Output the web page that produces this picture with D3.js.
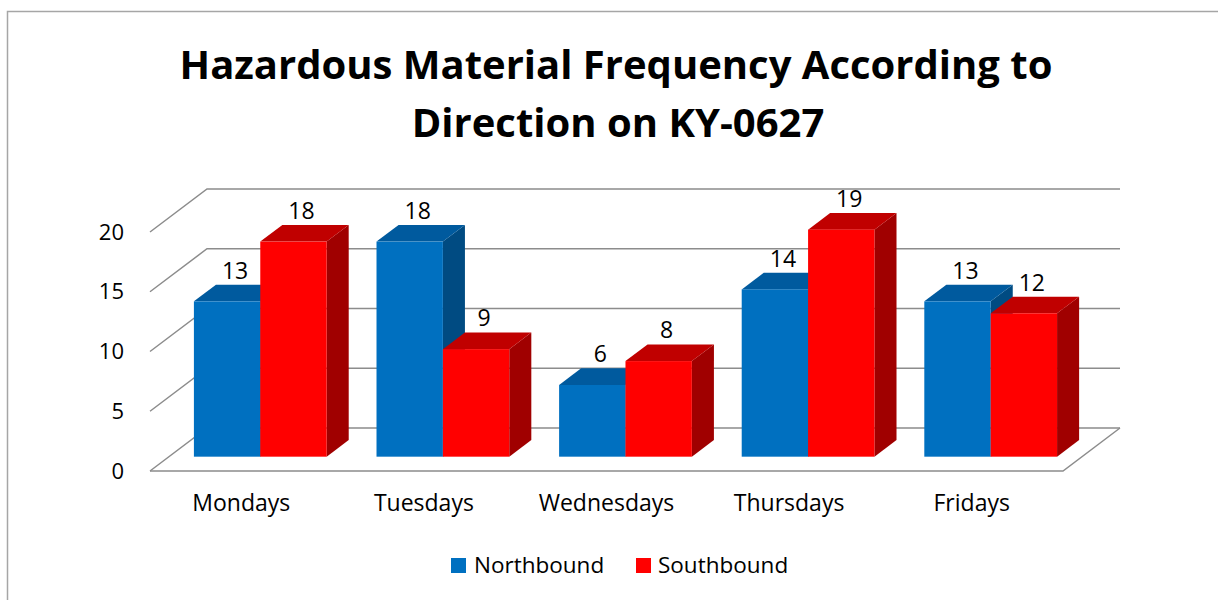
<!DOCTYPE html>
<html>
<head>
<meta charset="utf-8">
<script src="https://cdn.jsdelivr.net/npm/d3@7"></script>
<style>
  body { margin: 0; background: #fff; }
  text { font-family: "Open Sans", sans-serif; fill: #000; }
</style>
</head>
<body>
<div id="chart"></div>
<script>
// Data
const days = ["Mondays", "Tuesdays", "Wednesdays", "Thursdays", "Fridays"];
const seriesNames = ["Northbound", "Southbound"];
const northbound = [13, 18, 6, 14, 13];
const southbound = [18, 9, 8, 19, 12];
const yTicks = [0, 5, 10, 15, 20];

const width = 1218, height = 600;

// 3D box: depth offset of the back wall
const DX = 57, DY = 43;
const zFront = 0.333, zBack = 0.72;  // bar depth inside the floor

const colors = {
  Northbound: { front: "#0070c0", top: "#005a9e", side: "#004b82" },
  Southbound: { front: "#ff0000", top: "#c00000", side: "#a00000" }
};

const svg = d3.select("#chart").append("svg")
    .attr("width", width)
    .attr("height", height);

// chart area border
svg.append("rect")
    .attr("x", 7.5).attr("y", 11.5)
    .attr("width", 1400).attr("height", 800)
    .attr("fill", "none")
    .attr("stroke", "#a6a6a6")
    .attr("stroke-width", 1.5);

// Title
svg.append("text")
    .attr("x", 616).attr("y", 79)
    .attr("text-anchor", "middle")
    .style("font-size", "40px").style("font-weight", "bold")
    .text("Hazardous Material Frequency According to");
svg.append("text")
    .attr("x", 618).attr("y", 137)
    .attr("text-anchor", "middle")
    .style("font-size", "40px").style("font-weight", "bold")
    .text("Direction on KY-0627");

// Scales (front plane)
const x = d3.scaleBand()
    .domain(days)
    .range([150, 1063])
    .paddingInner(0.273)
    .paddingOuter(0.1365);

const xs = d3.scaleBand()
    .domain(seriesNames)
    .range([0, x.bandwidth()]);

const y = d3.scaleLinear()
    .domain([0, 20])
    .range([471, 232]);

const gridColor = "#8c8c8c";

// Gridlines: left wall diagonal + back wall horizontal
const grid = svg.append("g")
    .attr("fill", "none")
    .attr("stroke", gridColor)
    .attr("stroke-width", 1.5);

yTicks.forEach(t => {
  const yf = y(t);
  grid.append("path")
      .attr("d", `M150,${yf} L${150 + DX},${yf - DY} L${1063 + DX},${yf - DY}`);
});
// floor front and right edge
grid.append("path")
    .attr("d", `M150,${y(0)} L1063,${y(0)} L${1063 + DX},${y(0) - DY}`);

// Y tick labels
svg.append("g").selectAll("text")
    .data(yTicks)
    .join("text")
    .attr("x", 124)
    .attr("y", d => y(d))
    .attr("dy", "0.35em")
    .attr("text-anchor", "end")
    .style("font-size", "22px")
    .text(d => d);

// Category labels
svg.append("g").selectAll("text")
    .data(days)
    .join("text")
    .attr("x", d => x(d) + x.bandwidth() / 2)
    .attr("y", 503)
    .attr("dy", "0.35em")
    .attr("text-anchor", "middle")
    .style("font-size", "23px")
    .text(d => d);

// Bars
const bars = [];
days.forEach((d, i) => {
  bars.push({ day: d, series: "Northbound", value: northbound[i] });
  bars.push({ day: d, series: "Southbound", value: southbound[i] });
});

const ox = zFront * DX, oy = zFront * DY;
const bdx = (zBack - zFront) * DX, bdy = (zBack - zFront) * DY;

const barG = svg.append("g");
bars.forEach(b => {
  const x0 = x(b.day) + xs(b.series) + ox;
  const x1 = x0 + xs.bandwidth();
  const yb = y(0) - oy;
  const yt = y(b.value) - oy;
  const c = colors[b.series];
  const g = barG.append("g");
  g.append("path")
      .attr("d", `M${x1},${yt} L${x1 + bdx},${yt - bdy} L${x1 + bdx},${yb - bdy} L${x1},${yb} Z`)
      .attr("fill", c.side);
  g.append("path")
      .attr("d", `M${x0},${yt} L${x1},${yt} L${x1 + bdx},${yt - bdy} L${x0 + bdx},${yt - bdy} Z`)
      .attr("fill", c.top);
  g.append("rect")
      .attr("x", x0).attr("y", yt)
      .attr("width", x1 - x0).attr("height", yb - yt)
      .attr("fill", c.front);
  b.lx = (x0 + x1) / 2 + 8;
  b.ly = yt - bdy - 6;
});

// Value labels
svg.append("g").selectAll("text")
    .data(bars)
    .join("text")
    .attr("x", d => d.lx)
    .attr("y", d => d.ly)
    .attr("text-anchor", "middle")
    .style("font-size", "23px")
    .text(d => d.value);

// Legend
const legend = svg.append("g");
const legendItems = [
  { name: "Northbound", sx: 451, tx: 474 },
  { name: "Southbound", sx: 636, tx: 658 }
];
legendItems.forEach(l => {
  legend.append("rect")
      .attr("x", l.sx).attr("y", 558)
      .attr("width", 15).attr("height", 15)
      .attr("fill", colors[l.name].front);
  legend.append("text")
      .attr("x", l.tx).attr("y", 565)
      .attr("dy", "0.35em")
      .style("font-size", "22.5px")
      .text(l.name);
});
</script>
</body>
</html>
